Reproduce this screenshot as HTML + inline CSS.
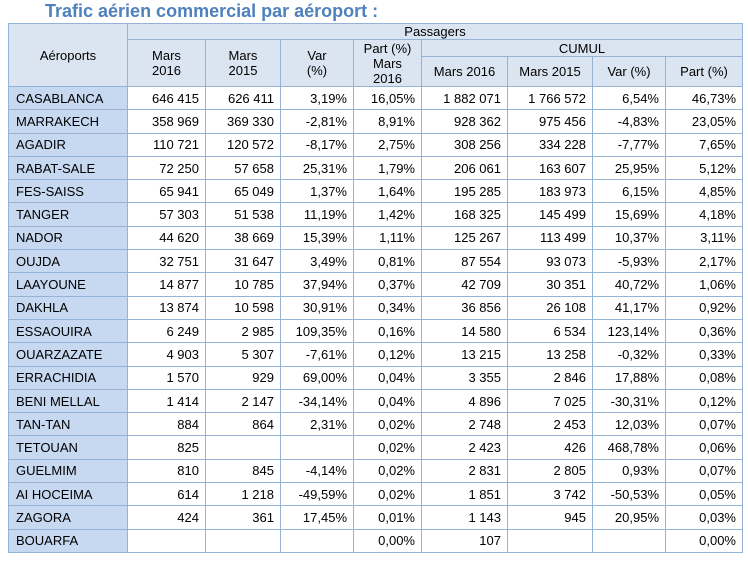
<!DOCTYPE html>
<html><head><meta charset="utf-8"><style>
body{margin:0;width:748px;height:561px;background:#fff;font-family:"Liberation Sans",Arial,sans-serif;position:relative;overflow:hidden}
h1{position:absolute;left:45px;top:1px;margin:0;font-size:18px;color:#4f81bd;font-weight:bold}
table{position:absolute;left:8px;top:23px;border-collapse:collapse;table-layout:fixed;font-size:13px;color:#000}
td{border:1px solid #95b3d7;padding:0 6px 0 4px;height:22.3px;text-align:right;white-space:nowrap;overflow:hidden}
td.n{background:#c6d9f1;text-align:left;padding-left:7px}
.h td{background:#dbe5f1;text-align:center;padding:0 2px;line-height:15px}
</style></head><body>
<h1>Trafic aérien commercial par aéroport :</h1>
<table>
<colgroup><col style="width:119px"><col style="width:78px"><col style="width:75px"><col style="width:73px"><col style="width:68px"><col style="width:86px"><col style="width:85px"><col style="width:73px"><col style="width:77px"></colgroup>
<tr class="h"><td rowspan="3" style="height:62px">Aéroports</td><td colspan="8" style="height:15px">Passagers</td></tr>
<tr class="h"><td rowspan="2">Mars<br>2016</td><td rowspan="2">Mars<br>2015</td><td rowspan="2">Var<br>(%)</td><td rowspan="2">Part (%)<br>Mars<br>2016</td><td colspan="4" style="height:15px">CUMUL</td></tr>
<tr class="h"><td style="height:29px">Mars 2016</td><td>Mars 2015</td><td>Var (%)</td><td>Part (%)</td></tr>
<tr><td class="n">CASABLANCA</td><td>646 415</td><td>626 411</td><td>3,19%</td><td>16,05%</td><td>1 882 071</td><td>1 766 572</td><td>6,54%</td><td>46,73%</td></tr>
<tr><td class="n">MARRAKECH</td><td>358 969</td><td>369 330</td><td>-2,81%</td><td>8,91%</td><td>928 362</td><td>975 456</td><td>-4,83%</td><td>23,05%</td></tr>
<tr><td class="n">AGADIR</td><td>110 721</td><td>120 572</td><td>-8,17%</td><td>2,75%</td><td>308 256</td><td>334 228</td><td>-7,77%</td><td>7,65%</td></tr>
<tr><td class="n">RABAT-SALE</td><td>72 250</td><td>57 658</td><td>25,31%</td><td>1,79%</td><td>206 061</td><td>163 607</td><td>25,95%</td><td>5,12%</td></tr>
<tr><td class="n">FES-SAISS</td><td>65 941</td><td>65 049</td><td>1,37%</td><td>1,64%</td><td>195 285</td><td>183 973</td><td>6,15%</td><td>4,85%</td></tr>
<tr><td class="n">TANGER</td><td>57 303</td><td>51 538</td><td>11,19%</td><td>1,42%</td><td>168 325</td><td>145 499</td><td>15,69%</td><td>4,18%</td></tr>
<tr><td class="n">NADOR</td><td>44 620</td><td>38 669</td><td>15,39%</td><td>1,11%</td><td>125 267</td><td>113 499</td><td>10,37%</td><td>3,11%</td></tr>
<tr><td class="n">OUJDA</td><td>32 751</td><td>31 647</td><td>3,49%</td><td>0,81%</td><td>87 554</td><td>93 073</td><td>-5,93%</td><td>2,17%</td></tr>
<tr><td class="n">LAAYOUNE</td><td>14 877</td><td>10 785</td><td>37,94%</td><td>0,37%</td><td>42 709</td><td>30 351</td><td>40,72%</td><td>1,06%</td></tr>
<tr><td class="n">DAKHLA</td><td>13 874</td><td>10 598</td><td>30,91%</td><td>0,34%</td><td>36 856</td><td>26 108</td><td>41,17%</td><td>0,92%</td></tr>
<tr><td class="n">ESSAOUIRA</td><td>6 249</td><td>2 985</td><td>109,35%</td><td>0,16%</td><td>14 580</td><td>6 534</td><td>123,14%</td><td>0,36%</td></tr>
<tr><td class="n">OUARZAZATE</td><td>4 903</td><td>5 307</td><td>-7,61%</td><td>0,12%</td><td>13 215</td><td>13 258</td><td>-0,32%</td><td>0,33%</td></tr>
<tr><td class="n">ERRACHIDIA</td><td>1 570</td><td>929</td><td>69,00%</td><td>0,04%</td><td>3 355</td><td>2 846</td><td>17,88%</td><td>0,08%</td></tr>
<tr><td class="n">BENI MELLAL</td><td>1 414</td><td>2 147</td><td>-34,14%</td><td>0,04%</td><td>4 896</td><td>7 025</td><td>-30,31%</td><td>0,12%</td></tr>
<tr><td class="n">TAN-TAN</td><td>884</td><td>864</td><td>2,31%</td><td>0,02%</td><td>2 748</td><td>2 453</td><td>12,03%</td><td>0,07%</td></tr>
<tr><td class="n">TETOUAN</td><td>825</td><td></td><td></td><td>0,02%</td><td>2 423</td><td>426</td><td>468,78%</td><td>0,06%</td></tr>
<tr><td class="n">GUELMIM</td><td>810</td><td>845</td><td>-4,14%</td><td>0,02%</td><td>2 831</td><td>2 805</td><td>0,93%</td><td>0,07%</td></tr>
<tr><td class="n">AI HOCEIMA</td><td>614</td><td>1 218</td><td>-49,59%</td><td>0,02%</td><td>1 851</td><td>3 742</td><td>-50,53%</td><td>0,05%</td></tr>
<tr><td class="n">ZAGORA</td><td>424</td><td>361</td><td>17,45%</td><td>0,01%</td><td>1 143</td><td>945</td><td>20,95%</td><td>0,03%</td></tr>
<tr><td class="n">BOUARFA</td><td></td><td></td><td></td><td>0,00%</td><td>107</td><td></td><td></td><td>0,00%</td></tr>
</table>
</body></html>
